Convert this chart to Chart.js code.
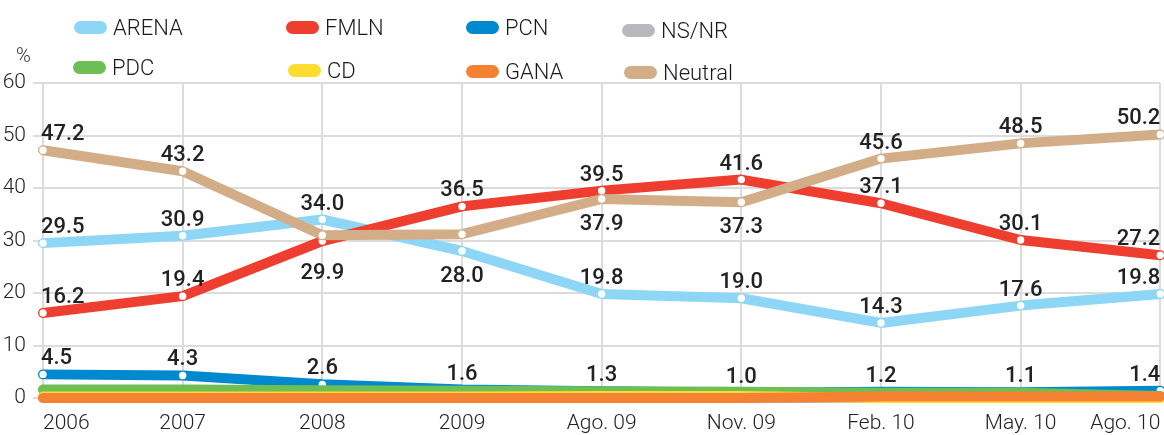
<!DOCTYPE html>
<html><head><meta charset="utf-8">
<script src="https://cdn.jsdelivr.net/npm/chart.js@4/dist/chart.umd.min.js"></script>
<style>
html,body{margin:0;padding:0;background:#fff;}
#wrap{position:relative;width:1164px;height:435px;overflow:hidden;font-family:Roboto,"DejaVu Sans",sans-serif;}
#c{position:absolute;left:0;top:0;}
.lg{position:absolute;display:flex;align-items:center;font-size:22px;font-weight:300;color:#1a1a1a;white-space:nowrap;height:30px;}
.sw{width:33px;height:13px;border-radius:7px;margin-right:6px;}
#pct{position:absolute;left:16px;top:43px;font-size:20px;font-weight:300;color:#333;}
</style></head>
<body><div id="wrap"><canvas id="c" width="1164" height="435"></canvas><div id="pct">%</div><div id="legend"></div></div>
<script>
// ---- data ----
const categories = ['2006','2007','2008','2009','Ago. 09','Nov. 09','Feb. 10','May. 10','Ago. 10'];
const yTicks = [0,10,20,30,40,50,60];
const arena   = [29.5,30.9,34.0,28.0,19.8,19.0,14.3,17.6,19.8];
const fmln    = [16.2,19.4,29.9,36.5,39.5,41.6,37.1,30.1,27.2];
const pcn     = [4.5,4.3,2.6,1.6,1.3,1.0,1.2,1.1,1.4];
const nsnr    = [0,0,0,0,0,0,0,0,0];
const pdc     = [1.6,1.6,1.5,1.4,1.3,1.2,1.0,1.0,0.4];
const cd      = [0.3,0.3,0.3,0.3,0.4,0.4,0,0,0];
const gana    = [0,0,0,0,0,0,0.3,0.3,0.3];
const neutral = [47.2,43.2,31.0,31.2,37.9,37.3,45.6,48.5,50.2];

// ---- styles ----
const FONT = 'Roboto, "DejaVu Sans", sans-serif';
const series = [
  {label:'ARENA',   data:arena,   color:'#8ed6f6', order:4, points:true},
  {label:'FMLN',    data:fmln,    color:'#ee3e2f', order:3, points:true},
  {label:'PCN',     data:pcn,     color:'#0089cf', order:8, points:true},
  {label:'NS/NR',   data:nsnr,    color:'#b8b9bc', order:9, points:false},
  {label:'PDC',     data:pdc,     color:'#6dbe54', order:7, points:false},
  {label:'CD',      data:cd,      color:'#fcdc2c', order:6, points:false},
  {label:'GANA',    data:gana,    color:'#f58233', order:5, points:false},
  {label:'Neutral', data:neutral, color:'#d3ad87', order:2, points:true}
];
// label side per point: a = above, b = below, B = further below, '' = none
const labelSide = {
  'ARENA':   ['a','a','a','b','a','a','a','a','a'],
  'FMLN':    ['a','a','B','a','a','a','a','a','a'],
  'Neutral': ['a','a','','','b','b','a','a','a'],
  'PCN':     ['a','a','a','a','a','a','a','a','a']
};
const legendPos = {
  'ARENA':[74,27],'FMLN':[286,27],'PCN':[466,27],'NS/NR':[622,30],
  'PDC':[73,67],'CD':[288,70],'GANA':[466,71],'Neutral':[624,72]
};

// legend (HTML)
const lg = document.getElementById('legend');
series.forEach(s => {
  const p = legendPos[s.label];
  const d = document.createElement('div');
  d.className = 'lg';
  d.style.left = p[0] + 'px';
  d.style.top = (p[1] - 15) + 'px';
  d.innerHTML = '<span class="sw" style="background:' + s.color + '"></span><span>' + s.label + '</span>';
  lg.appendChild(d);
});

const valueLabels = {
  id: 'valueLabels',
  afterDatasetsDraw(chart) {
    const ctx = chart.ctx;
    ctx.save();
    ctx.font = '500 22px ' + FONT;
    ctx.fillStyle = '#222';
    ctx.textBaseline = 'alphabetic';
    chart.data.datasets.forEach((ds, di) => {
      const sides = labelSide[ds.label];
      if (!sides) return;
      const meta = chart.getDatasetMeta(di);
      meta.data.forEach((pt, i) => {
        const side = sides[i];
        if (!side) return;
        const txt = ds.data[i].toFixed(1);
        let x = pt.x;
        if (i === 0) { ctx.textAlign = 'left'; x = pt.x - 2; }
        else if (i === ds.data.length - 1) { ctx.textAlign = 'right'; x = pt.x; }
        else ctx.textAlign = 'center';
        let y = side === 'a' ? pt.y - 10 : side === 'b' ? pt.y + 31 : pt.y + 38;
        ctx.fillText(txt, x, y);
      });
    });
    ctx.restore();
  }
};

new Chart(document.getElementById('c'), {
  type: 'line',
  data: {
    labels: categories,
    datasets: series.map(s => ({
      label: s.label,
      data: s.data,
      borderColor: s.color,
      backgroundColor: s.color,
      borderWidth: 10,
      borderCapStyle: 'round',
      borderJoinStyle: 'round',
      tension: 0,
      order: s.order,
      clip: false,
      pointRadius: s.points ? 3.7 : 0,
      pointBackgroundColor: '#ffffff',
      pointBorderWidth: 0,
      pointHoverRadius: 0
    }))
  },
  options: {
    responsive: false,
    animation: false,
    events: [],
    layout: { padding: { top: 83, right: 1, left: 0, bottom: 0 } },
    plugins: { legend: { display: false }, tooltip: { enabled: false }, title: { display: false } },
    scales: {
      x: {
        type: 'category',
        offset: false,
        border: { display: false },
        grid: { color: '#dcdcdc', lineWidth: 2, drawTicks: true, tickLength: 13, tickColor: 'rgba(0,0,0,0)' },
        ticks: { align: 'inner', padding: 0, autoSkip: false, maxRotation: 0, color: '#222', font: { family: FONT, size: 21, weight: 300 } },
        afterFit: s => { s.height = 37; }
      },
      y: {
        min: 0, max: 60,
        border: { display: false },
        grid: { color: '#dcdcdc', lineWidth: 2, drawTicks: true, tickLength: 10 },
        ticks: { padding: 7, color: '#222', font: { family: FONT, size: 21, weight: 300 } },
        afterBuildTicks: s => { s.ticks = yTicks.map(v => ({ value: v })); },
        afterFit: s => { s.width = 43; }
      }
    }
  },
  plugins: [valueLabels]
});
</script>
</body></html>
